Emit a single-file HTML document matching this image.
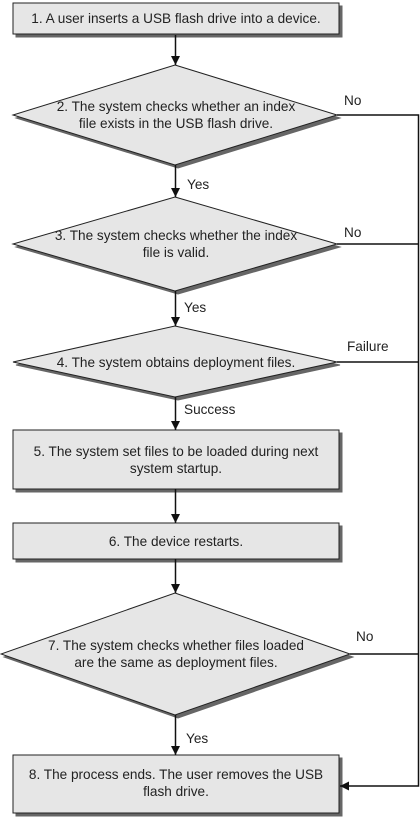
<!DOCTYPE html>
<html><head><meta charset="utf-8"><style>
html,body{margin:0;padding:0;background:#fff;}
svg{display:block;}
text{font-family:"Liberation Sans",Arial,sans-serif;font-size:13.6px;fill:#222;}
</style></head><body>
<svg width="420" height="818" viewBox="0 0 420 818" xmlns="http://www.w3.org/2000/svg">
<defs>
<marker id="ah" viewBox="0 0 10 10" refX="10" refY="5" markerWidth="14" markerHeight="9" markerUnits="userSpaceOnUse" orient="auto">
<path d="M0,0 L10,5 L0,10 z" fill="#111"/></marker>
</defs>
<g stroke="#666" fill="#666">
<rect x="16" y="6" width="326" height="31"/>
<polygon points="178,68 340,118 178,168 16,118"/>
<polygon points="178,200 340,247 178,294 16,247"/>
<polygon points="178,329 340,365 178,400 16,365"/>
<rect x="16" y="433" width="326" height="59"/>
<rect x="16" y="526" width="326" height="36"/>
<polygon points="178,596 353,657 178,718 4,657"/>
<rect x="16" y="758" width="326" height="58"/>
</g>
<g stroke="#222" stroke-width="1" fill="#e6e6e6">
<rect x="13" y="3" width="326" height="31"/>
<polygon points="175,65 337,115 175,165 13,115"/>
<polygon points="175,197 337,244 175,291 13,244"/>
<polygon points="175,326 337,362 175,397 13,362"/>
<rect x="13" y="430" width="326" height="59"/>
<rect x="13" y="523" width="326" height="36"/>
<polygon points="175,593 350,654 175,715 1,654"/>
<rect x="13" y="755" width="326" height="58"/>
</g>
<g stroke="#111" stroke-width="1.5" fill="none">
<line x1="175.5" y1="35" x2="175.5" y2="65" marker-end="url(#ah)"/>
<line x1="175.5" y1="165" x2="175.5" y2="197" marker-end="url(#ah)"/>
<line x1="175.5" y1="291" x2="175.5" y2="326" marker-end="url(#ah)"/>
<line x1="175.5" y1="397" x2="175.5" y2="430" marker-end="url(#ah)"/>
<line x1="175.5" y1="489" x2="175.5" y2="523" marker-end="url(#ah)"/>
<line x1="175.5" y1="559" x2="175.5" y2="593" marker-end="url(#ah)"/>
<line x1="175.5" y1="715" x2="175.5" y2="755" marker-end="url(#ah)"/>
<polyline points="337,115 418.5,115 418.5,786 340,786" marker-end="url(#ah)"/>
<line x1="337" y1="244" x2="418.5" y2="244"/>
<line x1="337" y1="362" x2="418.5" y2="362"/>
<line x1="350" y1="654" x2="418.5" y2="654"/>
</g>
<g text-anchor="middle">
<text x="176" y="23">1. A user inserts a USB flash drive into a device.</text>
<text x="176" y="111">2. The system checks whether an index</text>
<text x="176" y="128">file exists in the USB flash drive.</text>
<text x="176" y="240">3. The system checks whether the index</text>
<text x="176" y="257">file is valid.</text>
<text x="176" y="367">4. The system obtains deployment files.</text>
<text x="176" y="456">5. The system set files to be loaded during next</text>
<text x="176" y="473">system startup.</text>
<text x="176" y="546">6. The device restarts.</text>
<text x="176" y="650">7. The system checks whether files loaded</text>
<text x="176" y="667">are the same as deployment files.</text>
<text x="176" y="779">8. The process ends. The user removes the USB</text>
<text x="176" y="796">flash drive.</text>
</g>
<text x="187" y="189">Yes</text>
<text x="344" y="105">No</text>
<text x="344" y="237">No</text>
<text x="184" y="312">Yes</text>
<text x="347" y="351">Failure</text>
<text x="184" y="414">Success</text>
<text x="356" y="641">No</text>
<text x="186" y="743">Yes</text>
</svg>
</body></html>
